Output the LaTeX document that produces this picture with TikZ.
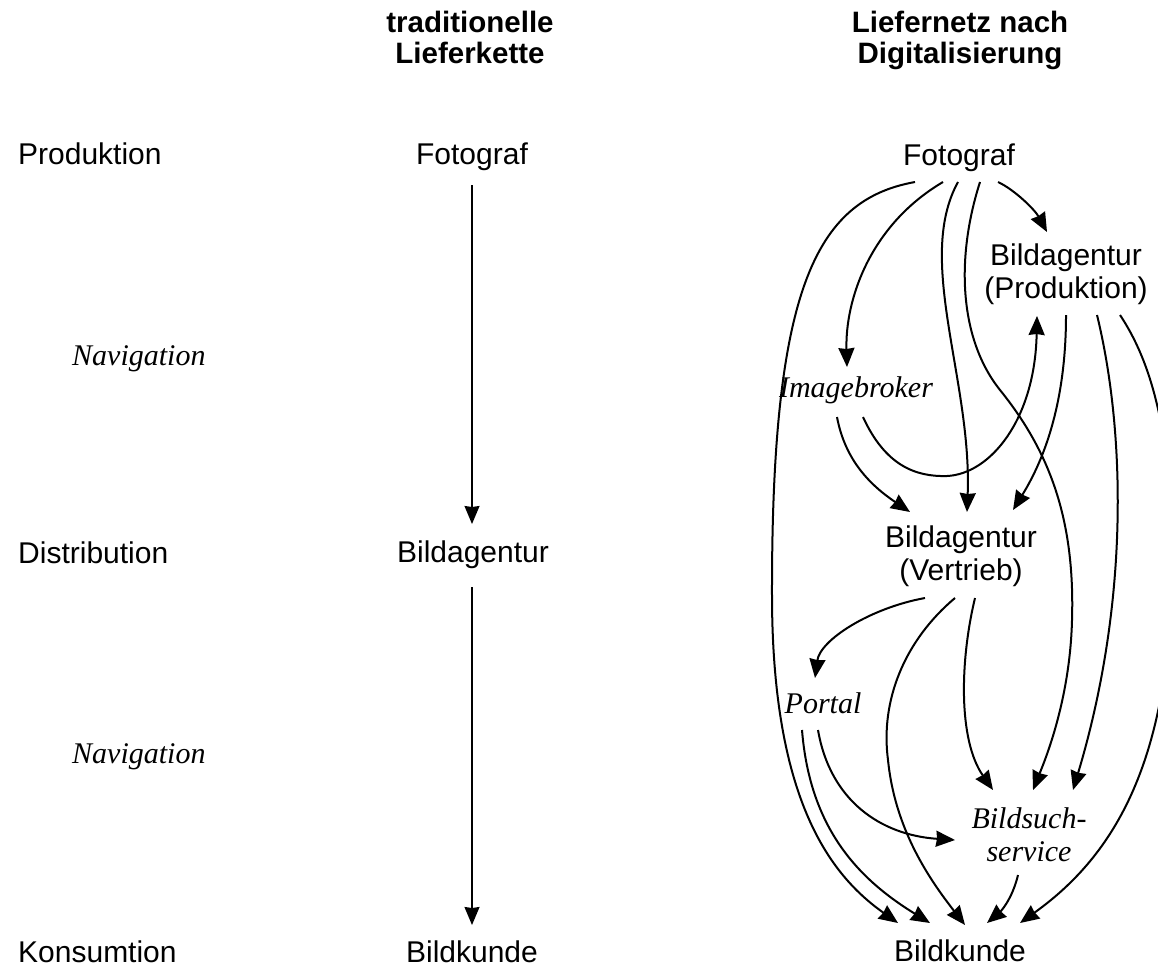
\documentclass[tikz,border=0pt]{standalone}
\usepackage{fontspec}
\setmainfont{Liberation Sans}
\newfontfamily\serifit{Liberation Serif}
\usetikzlibrary{arrows.meta,calc}
\tikzset{
  lbl/.style={inner sep=0pt, font={\fontsize{30}{33}\selectfont}},
  ital/.style={inner sep=0pt, font={\serifit\itshape\fontsize{30}{33}\selectfont}},
  head/.style={inner sep=0pt, font={\bfseries\fontsize{29.5}{31}\selectfont}},
  arr/.style={line width=2pt, -{Stealth[length=19pt,width=16pt,inset=1pt]}},
  thinarr/.style={line width=1.3pt, -{Stealth[length=18pt,width=15pt,inset=1pt]}}
}
\begin{document}
\begin{tikzpicture}[x=1pt,y=-1pt]
\useasboundingbox (0,0) rectangle (1158,969);
% headings
\node[head,anchor=base] (h1) at (470,32) {\begin{tabular}[t]{@{}c@{}}traditionelle\\Lieferkette\end{tabular}};
\node[head,anchor=base] (h2) at (960,32) {\begin{tabular}[t]{@{}c@{}}Liefernetz nach\\Digitalisierung\end{tabular}};
% left labels
\node[lbl,anchor=base west] (l1) at (18,164) {Produktion};
\node[ital,anchor=base west] (n1) at (72,365) {Navigation};
\node[lbl,anchor=base west] (l2) at (18,563) {Distribution};
\node[ital,anchor=base west] (n2) at (72,763) {Navigation};
\node[lbl,anchor=base west] (l3) at (18,962) {Konsumtion};
% middle chain
\node[lbl,anchor=base] (f1) at (472,164) {Fotograf};
\node[lbl,anchor=base] (a1) at (473,562) {Bildagentur};
\node[lbl,anchor=base] (k1) at (472,962) {Bildkunde};
\draw[thinarr] ($(f1.base)+(0,21)$) -- ($(a1.base)+(-1,-38)$);
\draw[thinarr] ($(a1.base)+(-1,25)$) -- ($(k1.base)+(0,-37)$);
% right network
\node[lbl,anchor=base] (f2) at (959,165) {Fotograf};
\node[lbl,anchor=base] (p) at (1066,265) {\begin{tabular}[t]{@{}c@{}}Bildagentur\\(Produktion)\end{tabular}};
\node[ital,anchor=base] (i) at (856,397) {Imagebroker};
\node[lbl,anchor=base] (v) at (961,547) {\begin{tabular}[t]{@{}c@{}}Bildagentur\\(Vertrieb)\end{tabular}};
\node[ital,anchor=base] (po) at (823,713) {Portal};
\node[ital,anchor=base] (b) at (1029,828) {\begin{tabular}[t]{@{}c@{}}Bildsuch-\\service\end{tabular}};
\node[lbl,anchor=base] (k2) at (960,961) {Bildkunde};
% from Fotograf
\draw[arr] ($(f2.base)+(-44,17)$) .. controls (815,200) and (771,290) .. (772,600)
   .. controls (773,800) and (830,875) .. ($(k2.base)+(-62,-38)$);
\draw[arr] ($(f2.base)+(-16,17)$) .. controls (870,225) and (845,300) .. ($(i.base)+(-9,-30)$);
\draw[arr] ($(f2.base)+(-1,17)$) .. controls (915,260) and (972,380) .. ($(v.base)+(6,-35)$);
\draw[arr] ($(f2.base)+(21,17)$) .. controls (955,260) and (960,340) .. (1000,390)
   .. controls (1050,452) and (1075,520) .. (1072,620)
   .. controls (1070,700) and (1045,760) .. ($(b.base)+(4,-38)$);
\draw[arr] ($(f2.base)+(39,17)$) .. controls (1015,190) and (1035,210) .. ($(p.base)+(-19,-33)$);
% from Bildagentur (Produktion)
\draw[arr] ($(p.base)+(0,50)$) .. controls (1066,390) and (1050,450) .. ($(v.base)+(52,-37)$);
\draw[arr] ($(p.base)+(31,50)$) .. controls (1125,430) and (1130,600) .. ($(b.base)+(44,-38)$);
\draw[arr] ($(p.base)+(54,50)$) .. controls (1150,360) and (1172,430) .. (1172,560)
   .. controls (1172,760) and (1115,855) .. ($(k2.base)+(60,-38)$);
% from Imagebroker
\draw[arr] ($(i.base)+(-19,20)$) .. controls (845,460) and (870,485) .. ($(v.base)+(-51,-35)$);
\draw[arr] ($(i.base)+(7,20)$) .. controls (885,465) and (915,477) .. (947,476)
   .. controls (990,474) and (1035,420) .. ($(p.base)+(-29,51)$);
% from Bildagentur (Vertrieb)
\draw[arr] ($(v.base)+(-36,51)$) .. controls (870,608) and (820,640) .. ($(po.base)+(-8,-35)$);
\draw[arr] ($(v.base)+(-6,51)$) .. controls (905,640) and (880,700) .. (888,760)
   .. controls (895,830) and (930,880) .. ($(k2.base)+(5,-36)$);
\draw[arr] ($(v.base)+(14,51)$) .. controls (960,660) and (958,740) .. ($(b.base)+(-36,-38)$);
% from Portal
\draw[arr] ($(po.base)+(-21,17)$) .. controls (810,830) and (860,880) .. ($(k2.base)+(-30,-38)$);
\draw[arr] ($(po.base)+(-5,17)$) .. controls (830,800) and (880,835) .. ($(b.base)+(-74,12)$);
% from Bildsuchservice
\draw[arr] ($(b.base)+(-11,47)$) .. controls (1012,900) and (1000,912) .. ($(k2.base)+(27,-38)$);
\end{tikzpicture}
\end{document}
